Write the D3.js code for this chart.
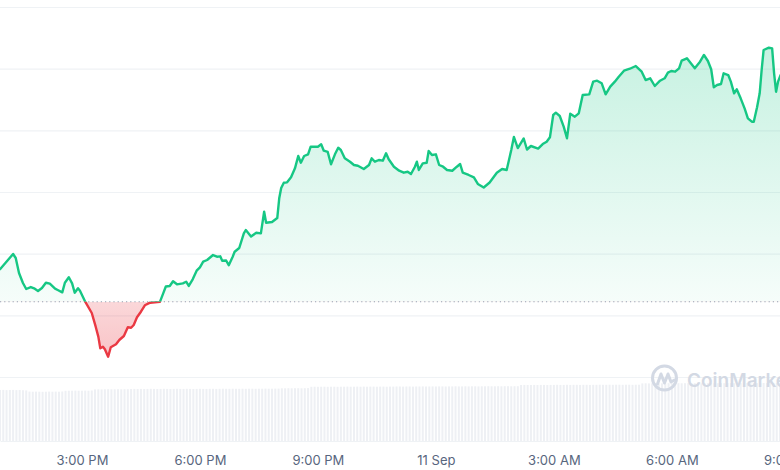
<!DOCTYPE html>
<html><head><meta charset="utf-8">
<script src="https://cdn.jsdelivr.net/npm/d3@7"></script>
<style>html,body{margin:0;padding:0;background:#fff;overflow:hidden}svg{display:block}</style>
</head><body><svg id="chart" width="780" height="470"></svg>
<script>
// ---------- DATA ----------
const startTime = "2023-09-10T12:55";
const endTime = "2023-09-11T08:45";
const openPrice = 112.2;
const priceTicks = [100, 110, 120, 130, 140, 150, 160];
const minutesFromStart = [
  0,20,24,29,35,40,47,53,58,64,70,76,84,88,95,99,105,110,114,119,122,
  130,140,146,150,153,157,160,165,169,177,182,189,195,200,204,209,215,221,229,
  244,249,253,259,264,270,279,284,288,294,300,305,310,316,325,331,336,339,345,349,
  355,358,365,372,375,383,391,398,403,406,415,423,426,429,433,438,444,450,455,459,
  464,470,474,485,490,494,500,505,511,516,520,526,534,540,546,555,563,567,572,578,
  584,589,593,601,609,616,622,627,633,636,639,645,651,654,659,665,670,676,682,690,
  697,702,706,715,723,729,738,747,758,766,773,780,784,790,799,804,810,821,828,834,
  839,844,848,854,860,865,870,877,883,889,899,905,911,918,924,931,938,944,952,961,
  970,979,985,992,999,1007,1014,1019,1024,1030,1036,1040,1048,1054,1060,1068,1074,1080,1085,1089,
  1094,1100,1104,1111,1115,1120,1124,1130,1136,1141,1147,1150,1155,1159,1162,1165,1173,1178,1181,1184,
  1187,1191
];
const prices = [
  117.47,119.95,119.30,116.86,115.24,114.27,114.59,114.32,113.95,114.43,115.29,115.13,114.32,114.11,113.73,115.29,116.17,115.19,113.67,114.38,113.99,
  112.21,110.38,108.16,106.54,104.65,104.91,104.49,103.29,104.82,105.30,106.00,106.65,108.06,107.99,108.43,109.68,110.59,111.63,112.05,
  112.19,113.57,114.68,114.76,115.52,115.03,115.19,115.45,114.76,115.84,117.24,117.79,118.70,118.97,119.78,119.51,119.57,118.86,118.89,118.13,
  119.51,120.32,120.92,123.30,123.84,122.78,123.40,123.30,126.81,125.02,125.13,125.78,128.98,130.65,131.51,131.57,132.38,133.84,135.84,134.75,
  135.84,136.11,137.35,137.35,137.73,136.70,136.49,134.49,136.11,137.18,136.81,135.46,134.91,134.38,134.26,133.73,134.38,135.46,134.91,135.19,
  135.08,136.28,135.30,134.10,133.45,133.13,133.29,132.92,134.10,134.91,133.57,134.65,134.75,136.65,136.00,136.11,134.38,134.10,133.57,133.45,
  134.10,134.54,133.13,132.76,132.38,131.30,130.73,131.54,133.13,133.73,133.57,136.81,138.92,137.13,138.68,136.89,137.46,137.05,137.78,138.16,
  138.87,142.49,142.86,142.32,140.59,138.71,142.70,142.21,142.76,145.73,145.84,147.89,148.05,147.63,145.84,147.08,147.89,148.70,149.67,149.99,
  150.43,149.51,148.16,148.44,147.19,148.05,148.44,149.35,149.62,149.51,150.06,151.29,151.68,150.87,150.06,151.13,152.22,151.24,149.90,146.98,
  147.35,147.51,149.25,148.97,147.89,146.00,146.65,145.19,143.57,141.95,141.40,141.40,143.73,146.00,149.78,153.03,153.40,153.30,149.25,146.26,
  147.89,148.97
];
const volumeStepMinutes = 5;
const volumes = [
  51.0,51.1,50.9,51.0,51.1,50.9,51.0,50.8,50.6,
  49.4,49.3,49.4,49.3,49.2,49.3,49.4,49.3,49.4,49.3,49.5,
  50.2,50.3,50.3,50.4,50.3,50.3,50.4,50.3,50.5,
  51.6,51.7,51.6,51.7,51.8,51.7,51.7,51.8,51.7,51.8,51.8,
  52.0,52.1,52.0,52.1,52.0,52.1,52.2,52.1,52.0,52.1,52.2,52.1,52.0,52.1,52.2,52.1,52.1,52.2,52.1,52.0,
  52.1,52.2,52.1,52.1,52.2,52.2,52.1,52.2,52.3,52.2,52.2,52.3,52.2,52.2,52.3,52.2,52.3,52.3,52.2,52.3,
  52.3,52.4,52.3,52.3,52.4,52.4,
  52.7,52.7,52.8,52.7,52.8,52.8,52.7,52.8,52.9,
  54.2,54.3,54.2,54.3,54.3,54.2,54.3,54.3,54.2,54.3,54.3,54.4,54.3,54.3,54.4,54.3,54.4,54.3,54.4,54.4,
  54.3,54.4,54.4,54.3,54.4,54.4,54.5,
  54.5,54.4,54.5,54.5,54.4,54.5,54.5,54.6,54.5,54.5,54.6,54.5,54.6,54.6,54.5,54.6,54.6,54.7,54.6,54.6,
  54.7,54.6,54.7,54.7,54.6,54.7,54.7,54.8,54.7,54.7,54.8,54.7,54.8,54.8,54.7,54.8,54.8,
  56.0,56.1,56.0,56.0,56.1,56.0,56.1,56.1,56.0,56.1,56.1,56.2,56.1,56.1,56.2,56.1,56.2,56.2,56.1,56.2,
  56.2,56.1,56.2,56.2,56.3,56.2,56.2,56.3,56.2,56.3,56.3,56.2,56.3,56.3,56.2,56.3,56.3,
  57.6,57.7,57.6,57.7,57.7,57.6,57.7,57.7,57.8,57.7,57.7,57.8,57.7,57.8,57.8,57.7,57.8,57.8,57.7,57.8,
  57.8,57.9,57.8,57.8,57.9,57.8,57.9,57.9,57.8,57.9,57.9,57.8,57.9,57.9,58.0,57.9,57.9,58.0,57.9,58.0,
  58.0,57.9,58.0
];
const xTickTimes = ["2023-09-10T15:00","2023-09-10T18:00","2023-09-10T21:00","2023-09-11T00:00","2023-09-11T03:00","2023-09-11T06:00","2023-09-11T09:00"];
const xTickLabels = ["3:00 PM","6:00 PM","9:00 PM","11 Sep","3:00 AM","6:00 AM","9:00 AM"];
const watermarkText = "CoinMarketCap";

// ---------- CHART ----------
const W = 780, H = 470;
const parse = d3.timeParse("%Y-%m-%dT%H:%M");
const t0 = parse(startTime), t1 = parse(endTime);
const series = minutesFromStart.map((m, i) => ({ t: d3.timeMinute.offset(t0, m), p: prices[i] }));

const x = d3.scaleTime().domain([t0, t1]).range([0, W]);
const y = d3.scaleLinear().domain([100, 160]).range([377, 7]);
const yVol = d3.scaleLinear().domain([0, 60]).range([441, 381]);

const svg = d3.select("#chart");
const defs = svg.append("defs");

const baseY = y(openPrice);
defs.append("clipPath").attr("id", "clipUp").append("rect")
  .attr("x", -5).attr("y", -5).attr("width", W + 10).attr("height", baseY + 5);
defs.append("clipPath").attr("id", "clipDown").append("rect")
  .attr("x", -5).attr("y", baseY).attr("width", W + 10).attr("height", H - baseY);

const gUp = defs.append("linearGradient").attr("id", "gradUp")
  .attr("gradientUnits", "userSpaceOnUse").attr("x1", 0).attr("x2", 0)
  .attr("y1", y(d3.max(prices))).attr("y2", baseY);
gUp.append("stop").attr("offset", 0).attr("stop-color", "#16c784").attr("stop-opacity", 0.24);
gUp.append("stop").attr("offset", 1).attr("stop-color", "#16c784").attr("stop-opacity", 0.04);
const gDn = defs.append("linearGradient").attr("id", "gradDn")
  .attr("gradientUnits", "userSpaceOnUse").attr("x1", 0).attr("x2", 0)
  .attr("y1", baseY).attr("y2", y(d3.min(prices)));
gDn.append("stop").attr("offset", 0).attr("stop-color", "#ea3943").attr("stop-opacity", 0.2);
gDn.append("stop").attr("offset", 1).attr("stop-color", "#ea3943").attr("stop-opacity", 0.3);

// gridlines
const grid = svg.append("g").attr("class", "grid")
  .call(d3.axisLeft(y).tickValues(priceTicks).tickSize(-W).tickFormat(""));
grid.select(".domain").remove();
grid.selectAll(".tick line").attr("stroke", "#eff2f5").attr("stroke-width", 1.2);

// volume bars
svg.append("g").selectAll("rect").data(volumes).join("rect")
  .attr("x", (d, i) => x(d3.timeMinute.offset(t0, i * volumeStepMinutes)) - 1)
  .attr("width", 2)
  .attr("y", d => yVol(d))
  .attr("height", d => yVol(0) - yVol(d))
  .attr("fill", "#eef0f4");

// x axis
const xa = svg.append("g").attr("transform", `translate(0,${yVol(0)})`)
  .call(d3.axisBottom(x).tickValues(xTickTimes.map(parse)).tickSize(0).tickPadding(15)
    .tickFormat((d, i) => xTickLabels[i]));
xa.select(".domain").attr("stroke", "#eff2f5").attr("stroke-width", 1);
xa.selectAll("text").attr("fill", "#58667e").attr("font-family", "Inter, 'Noto Sans', sans-serif").attr("font-size", 13);

// areas
const area = d3.area().x(d => x(d.t)).y0(baseY).y1(d => y(d.p));
svg.append("path").datum(series).attr("d", area).attr("fill", "url(#gradUp)").attr("clip-path", "url(#clipUp)");
svg.append("path").datum(series).attr("d", area).attr("fill", "url(#gradDn)").attr("clip-path", "url(#clipDown)");

// baseline dotted
svg.append("line").attr("x1", 0).attr("x2", W).attr("y1", baseY).attr("y2", baseY)
  .attr("stroke", "#98a1b3").attr("stroke-width", 1.2).attr("stroke-dasharray", "1.2,3");

// lines
const line = d3.line().x(d => x(d.t)).y(d => y(d.p));
svg.append("path").datum(series).attr("d", line).attr("fill", "none")
  .attr("stroke", "#16c784").attr("stroke-width", 2.4).attr("stroke-linejoin", "round").attr("stroke-linecap", "round")
  .attr("clip-path", "url(#clipUp)");
svg.append("path").datum(series).attr("d", line).attr("fill", "none")
  .attr("stroke", "#ea3943").attr("stroke-width", 2.4).attr("stroke-linejoin", "round").attr("stroke-linecap", "round")
  .attr("clip-path", "url(#clipDown)");

// watermark
const wm = svg.append("g").attr("transform", "translate(664.5,378)").attr("opacity", 1);
wm.append("circle").attr("r", 12).attr("fill", "none").attr("stroke", "#d3d9e4").attr("stroke-width", 3);
wm.append("path").attr("d", "M-7,6 L-3.5,-4 L0,5 L3.5,-4 L6.5,4 L10,2")
  .attr("fill", "none").attr("stroke", "#d3d9e4").attr("stroke-width", 3).attr("stroke-linejoin", "round").attr("stroke-linecap", "round");
svg.append("text").attr("x", 687).attr("y", 387).text(watermarkText)
  .attr("font-family", "Inter, 'Noto Sans', sans-serif").attr("font-weight", 600).attr("font-size", 19)
  .attr("fill", "#d3d9e4");
</script></body></html>
